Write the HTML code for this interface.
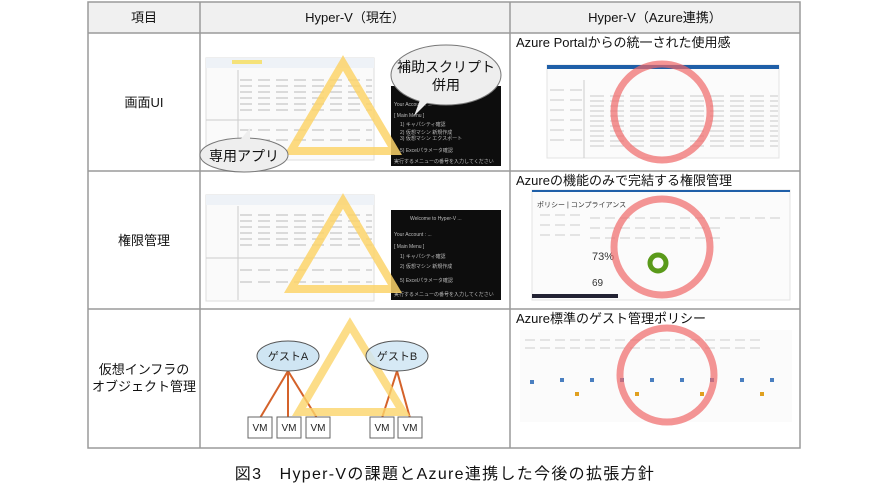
<!DOCTYPE html>
<html><head><meta charset="utf-8"><style>
body{margin:0;width:890px;height:500px;background:#fff;font-family:"Liberation Sans","Noto Sans CJK JP",sans-serif;position:relative;overflow:hidden}
svg{position:absolute;left:0;top:0}
</style></head><body>
<svg width="890" height="500" viewBox="0 0 890 500" font-family="Liberation Sans, Noto Sans CJK JP, sans-serif">
<rect x="88" y="2" width="712" height="31" fill="#f0f0f0"/>
<g stroke="#9a9a9a" stroke-width="1.5" fill="none">
<rect x="88" y="2" width="712" height="446"/>
<line x1="88" y1="33" x2="800" y2="33"/>
<line x1="88" y1="171" x2="800" y2="171"/>
<line x1="88" y1="309" x2="800" y2="309"/>
<line x1="200" y1="2" x2="200" y2="448"/>
<line x1="510" y1="2" x2="510" y2="448"/>
</g>
<g font-size="13" fill="#111" text-anchor="middle">
<text x="144" y="22">項目</text>
<text x="355" y="22">Hyper-V（現在）</text>
<text x="655" y="22">Hyper-V（Azure連携）</text>
<text x="144" y="107">画面UI</text>
<text x="144" y="245">権限管理</text>
<text x="144" y="374">仮想インフラの</text>
<text x="144" y="391">オブジェクト管理</text>
</g>
<!-- row1 col2 -->
<rect x="206" y="58" width="168" height="102" fill="#fafafa" stroke="#ddd"/>
<rect x="206" y="58" width="168" height="10" fill="#eef2f7"/>
<rect x="232" y="60" width="30" height="4" fill="#f5e27a"/>
<g stroke="#bbb" stroke-width="1" stroke-dasharray="12 6"><line x1="240" y1="80" x2="372" y2="80"/><line x1="240" y1="86" x2="372" y2="86"/><line x1="240" y1="92" x2="372" y2="92"/><line x1="240" y1="98" x2="372" y2="98"/><line x1="240" y1="104" x2="372" y2="104"/><line x1="240" y1="110" x2="372" y2="110"/><line x1="240" y1="130" x2="372" y2="130"/><line x1="240" y1="140" x2="372" y2="140"/></g>
<g stroke="#ccc"><line x1="206" y1="120" x2="374" y2="120"/><line x1="238" y1="70" x2="238" y2="160"/></g>
<rect x="391" y="86" width="110" height="80" fill="#0d0d0d"/>
<g fill="#bbb" font-size="5"><text x="394" y="106">Your Account : ...</text><text x="394" y="117">[ Main Menu ]</text><text x="400" y="126">1) キャパシティ確認</text><text x="400" y="134">2) 仮想マシン 新規作成</text><text x="400" y="140">3) 仮想マシン エクスポート</text><text x="400" y="152">5) Excelパラメータ確認</text><text x="394" y="163">実行するメニューの番号を入力してください</text></g>
<polygon points="343,63 291,151 395,151" fill="none" stroke="#fbd46a" stroke-opacity="0.85" stroke-width="8"/>
<ellipse cx="446" cy="75" rx="55" ry="30" fill="#eee" stroke="#777"/>
<polygon points="420,100 428,102 414,116" fill="#eee"/>
<text x="446" y="72" font-size="14" text-anchor="middle" fill="#111">補助スクリプト</text>
<text x="446" y="90" font-size="14" text-anchor="middle" fill="#111">併用</text>
<ellipse cx="244" cy="155" rx="44" ry="17" fill="#eee" stroke="#777"/>
<polygon points="240,140 250,140 250,128" fill="#eee"/>
<text x="244" y="161" font-size="14" text-anchor="middle" fill="#111">専用アプリ</text>
<!-- row2 col2 -->
<rect x="206" y="195" width="168" height="106" fill="#fafafa" stroke="#ddd"/>
<rect x="206" y="195" width="168" height="10" fill="#eef2f7"/>
<g stroke="#bbb" stroke-dasharray="12 6"><line x1="240" y1="215" x2="372" y2="215"/><line x1="240" y1="221" x2="372" y2="221"/><line x1="240" y1="227" x2="372" y2="227"/><line x1="240" y1="233" x2="372" y2="233"/><line x1="240" y1="239" x2="372" y2="239"/><line x1="240" y1="245" x2="372" y2="245"/><line x1="240" y1="270" x2="372" y2="270"/><line x1="240" y1="282" x2="372" y2="282"/></g>
<g stroke="#ccc"><line x1="206" y1="258" x2="374" y2="258"/><line x1="238" y1="206" x2="238" y2="300"/></g>
<rect x="391" y="210" width="110" height="90" fill="#0d0d0d"/>
<g fill="#bbb" font-size="5"><text x="410" y="220">Welcome to Hyper-V ...</text><text x="394" y="236">Your Account : ...</text><text x="394" y="248">[ Main Menu ]</text><text x="400" y="258">1) キャパシティ確認</text><text x="400" y="268">2) 仮想マシン 新規作成</text><text x="400" y="282">5) Excelパラメータ確認</text><text x="394" y="296">実行するメニューの番号を入力してください</text></g>
<polygon points="343,201 291,289 395,289" fill="none" stroke="#fbd46a" stroke-opacity="0.85" stroke-width="8"/>
<!-- row3 col2 -->
<g stroke="#d4622a" stroke-width="2"><line x1="288" y1="371" x2="260" y2="418"/><line x1="288" y1="371" x2="288" y2="418"/><line x1="288" y1="371" x2="317" y2="418"/><line x1="397" y1="371" x2="382" y2="418"/><line x1="397" y1="371" x2="410" y2="418"/></g>
<polygon points="350,325 299,412 403,412" fill="none" stroke="#fbd46a" stroke-opacity="0.8" stroke-width="8"/>
<ellipse cx="288" cy="356" rx="31" ry="15" fill="#cfe5f3" stroke="#555"/>
<ellipse cx="397" cy="356" rx="31" ry="15" fill="#cfe5f3" fill-opacity="0.85" stroke="#555"/>
<g font-size="11" text-anchor="middle" fill="#222"><text x="288" y="360">ゲストA</text><text x="397" y="360">ゲストB</text></g>
<g fill="#fff" stroke="#666"><rect x="248" y="417" width="24" height="21"/><rect x="277" y="417" width="24" height="21"/><rect x="306" y="417" width="24" height="21"/><rect x="370" y="417" width="24" height="21"/><rect x="398" y="417" width="24" height="21"/></g>
<g font-size="10" text-anchor="middle" fill="#222"><text x="260" y="431">VM</text><text x="289" y="431">VM</text><text x="318" y="431">VM</text><text x="382" y="431">VM</text><text x="410" y="431">VM</text></g>
<!-- col3 -->
<g font-size="13" fill="#111"><text x="516" y="47">Azure Portalからの統一された使用感</text><text x="516" y="185">Azureの機能のみで完結する権限管理</text><text x="516" y="323">Azure標準のゲスト管理ポリシー</text></g>
<rect x="547" y="65" width="232" height="93" fill="#fbfbfb" stroke="#e3e3e3"/>
<rect x="547" y="65" width="232" height="4" fill="#1f5fa8"/>
<g stroke="#c8c8c8" stroke-dasharray="14 6"><line x1="590" y1="96" x2="778" y2="96"/><line x1="590" y1="101" x2="778" y2="101"/><line x1="590" y1="106" x2="778" y2="106"/><line x1="590" y1="111" x2="778" y2="111"/><line x1="590" y1="116" x2="778" y2="116"/><line x1="590" y1="121" x2="778" y2="121"/><line x1="590" y1="126" x2="778" y2="126"/><line x1="590" y1="131" x2="778" y2="131"/><line x1="590" y1="136" x2="778" y2="136"/><line x1="590" y1="141" x2="778" y2="141"/><line x1="590" y1="146" x2="778" y2="146"/><line x1="550" y1="90" x2="582" y2="90"/><line x1="550" y1="100" x2="582" y2="100"/><line x1="550" y1="110" x2="582" y2="110"/><line x1="550" y1="120" x2="582" y2="120"/><line x1="550" y1="130" x2="582" y2="130"/><line x1="550" y1="140" x2="582" y2="140"/></g>
<line x1="584" y1="80" x2="584" y2="158" stroke="#ccc"/>
<circle cx="662" cy="112" r="48" fill="none" stroke="#f06868" stroke-opacity="0.7" stroke-width="7"/>
<rect x="532" y="190" width="258" height="110" fill="#fbfbfb" stroke="#e3e3e3"/>
<rect x="532" y="190" width="258" height="2" fill="#1f5fa8"/>
<text x="537" y="207" font-size="7" fill="#333">ポリシー | コンプライアンス</text>
<g stroke="#ccc" stroke-dasharray="10 5"><line x1="540" y1="215" x2="580" y2="215"/><line x1="540" y1="225" x2="580" y2="225"/><line x1="540" y1="235" x2="580" y2="235"/><line x1="590" y1="218" x2="780" y2="218"/><line x1="590" y1="228" x2="720" y2="228"/><line x1="590" y1="238" x2="720" y2="238"/></g>
<text x="592" y="260" font-size="11" fill="#333">73%</text>
<text x="592" y="286" font-size="10" fill="#333">69</text>
<circle cx="658" cy="263" r="8" fill="none" stroke="#5a9a1a" stroke-width="5"/>
<rect x="532" y="294" width="86" height="4" fill="#223"/>
<circle cx="662" cy="247" r="48" fill="none" stroke="#f06868" stroke-opacity="0.7" stroke-width="7"/>
<rect x="520" y="330" width="272" height="92" fill="#fbfbfb"/>
<g stroke="#ccc" stroke-dasharray="10 5"><line x1="525" y1="340" x2="760" y2="340"/><line x1="525" y1="348" x2="760" y2="348"/></g>
<g fill="#4a7fc0"><rect x="530" y="380" width="4" height="4"/><rect x="560" y="378" width="4" height="4"/><rect x="590" y="378" width="4" height="4"/><rect x="620" y="378" width="4" height="4"/><rect x="650" y="378" width="4" height="4"/><rect x="680" y="378" width="4" height="4"/><rect x="710" y="378" width="4" height="4"/><rect x="740" y="378" width="4" height="4"/><rect x="770" y="378" width="4" height="4"/></g>
<g fill="#e0a020"><rect x="575" y="392" width="4" height="4"/><rect x="635" y="392" width="4" height="4"/><rect x="700" y="392" width="4" height="4"/><rect x="760" y="392" width="4" height="4"/></g>
<circle cx="667" cy="375" r="47" fill="none" stroke="#f06868" stroke-opacity="0.7" stroke-width="7"/>
<text x="445" y="479" font-size="16" letter-spacing="1.3" text-anchor="middle" fill="#111">図3　Hyper-Vの課題とAzure連携した今後の拡張方針</text>
</svg>
</body></html>
